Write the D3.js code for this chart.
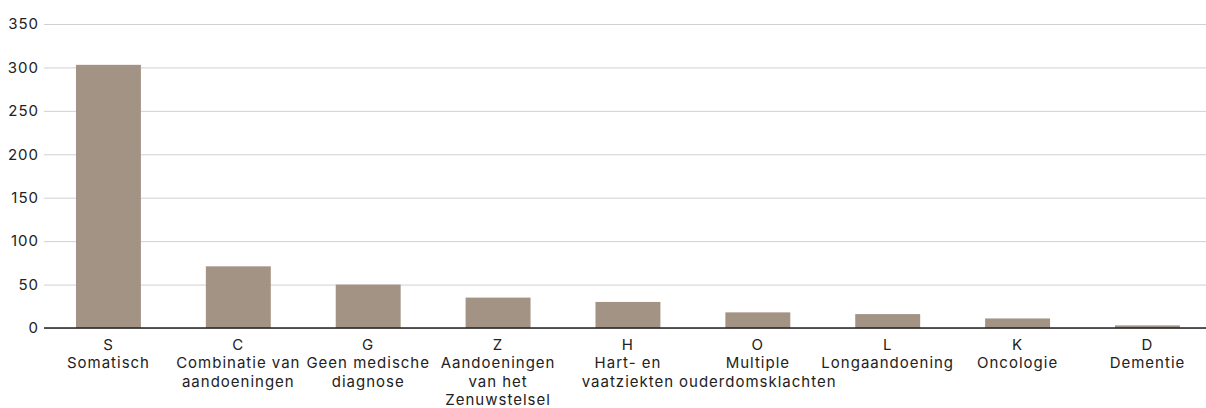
<!DOCTYPE html>
<html>
<head>
<meta charset="utf-8">
<script src="https://cdn.jsdelivr.net/npm/d3@7"></script>
<style>
  body { margin: 0; background: #fff; }
  svg { font-family: Inter, "Noto Sans", sans-serif; }
</style>
</head>
<body>
<svg></svg>
<script>
const codes = ["S", "C", "G", "Z", "H", "O", "L", "K", "D"];
const names = [
  ["Somatisch"],
  ["Combinatie van", "aandoeningen"],
  ["Geen medische", "diagnose"],
  ["Aandoeningen", "van het", "Zenuwstelsel"],
  ["Hart- en", "vaatziekten"],
  ["Multiple", "ouderdomsklachten"],
  ["Longaandoening"],
  ["Oncologie"],
  ["Dementie"]
];
const values = [303, 71, 50, 35, 30, 18, 16, 11, 3];
const yTicks = [0, 50, 100, 150, 200, 250, 300, 350];

function barChart() {
  const width = 1206;
  const height = 408;
  const marginTop = 24;
  const marginBottom = 80;
  const marginLeft = 44;

  const svg = d3.select("svg").attr("width", width).attr("height", height);

  // bands run a little past the right edge, like the original
  const x = d3
    .scaleBand(codes, [43.5, 1212.4])
    .paddingInner(0.5)
    .paddingOuter(0.25);

  const y = d3.scaleLinear([0, 350], [height - marginBottom, marginTop]);

  // grid + y labels
  const yAxis = svg
    .append("g")
    .attr("transform", `translate(${marginLeft},0)`)
    .call(
      d3.axisLeft(y)
        .tickValues(yTicks)
        .tickSize(-(width - marginLeft))
        .tickPadding(5)
    );
  yAxis.select(".domain").remove();
  yAxis.selectAll(".tick line").attr("stroke", "#d0d0d4").attr("stroke-width", 1);
  yAxis.selectAll(".tick text")
    .attr("fill", "#222")
    .attr("font-size", 15)
    .attr("letter-spacing", 1)
    .attr("font-family", "Inter, sans-serif");

  svg
    .selectAll(".bar")
    .data(values)
    .enter()
    .append("rect")
    .attr("class", "bar")
    .attr("x", (_, i) => x(codes[i]))
    .attr("y", (d) => y(d))
    .attr("width", x.bandwidth())
    .attr("height", (d) => y(0) - y(d))
    .attr("fill", "#a39385");

  // x axis
  const xAxis = svg
    .append("g")
    .attr("transform", `translate(0,${y(0)})`)
    .call(d3.axisBottom(x).tickSize(0).tickFormat(() => ""));
  xAxis.select(".domain").attr("stroke", "#222").attr("stroke-width", 1.5)
    .attr("d", `M${marginLeft},0H${width}`);

  xAxis.selectAll(".tick").each(function (d, i) {
    const t = d3.select(this).append("text")
      .attr("fill", "#222")
      .attr("font-size", 15)
      .attr("letter-spacing", 1)
      .attr("font-family", "Inter, sans-serif")
      .attr("text-anchor", "middle");
    [codes[i], ...names[i]].forEach((line, j) => {
      t.append("tspan").attr("x", 0).attr("y", 22 + j * 18.3).text(line);
    });
  });
}

barChart();
</script>
</body>
</html>
